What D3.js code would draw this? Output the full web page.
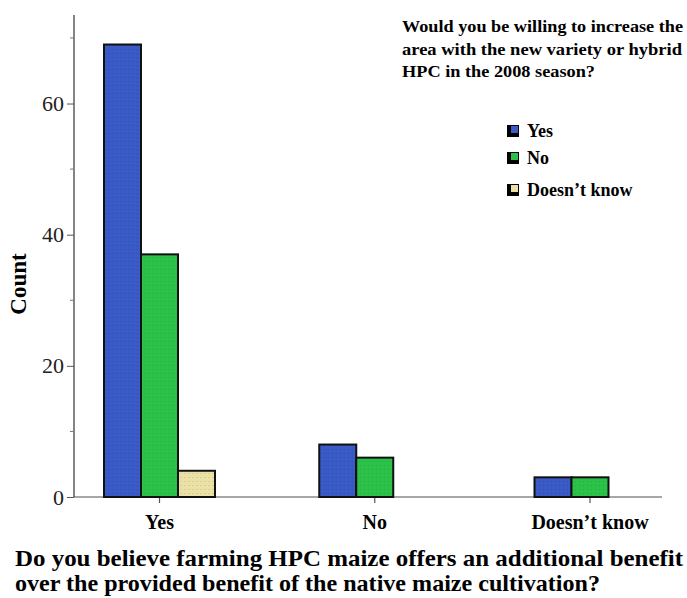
<!DOCTYPE html>
<html>
<head>
<meta charset="utf-8">
<title>HPC maize survey</title>
<script src="https://cdnjs.cloudflare.com/ajax/libs/d3/7.8.5/d3.min.js"></script>
<style>
    body { margin: 0; background: #fff; }
    text { font-family: 'Liberation Serif', 'Times New Roman', serif; }
</style>
</head>
<body>
<script>
    const categories = ['Yes', 'No', 'Doesn\u2019t know'];
    const seriesNames = ['Yes', 'No', 'Doesn\u2019t know'];
    const yesValues = [69, 8, 3];
    const noValues = [37, 6, 3];
    const dontKnowValues = [4, null, null];
    const yTicks = [0, 20, 40, 60];
    const yMinorTicks = [10, 30, 50, 70];
    const colors = ['#3a5bc6', '#2cc24a', '#ebe1a6'];
    const dotColors = ['#2a45a0', '#1e9a38', '#b9ae72'];

    const W = 687, H = 598;
    const svg = d3.select('body').append('svg')
        .attr('width', W)
        .attr('height', H);

    // dotted fill patterns like the original print
    const defs = svg.append('defs');
    colors.forEach((c, i) => {
        const p = defs.append('pattern')
            .attr('id', 'pat' + i)
            .attr('width', 4)
            .attr('height', 4)
            .attr('patternUnits', 'userSpaceOnUse');
        p.append('rect').attr('width', 4).attr('height', 4).attr('fill', c);
        p.append('rect').attr('x', 1).attr('y', 1).attr('width', 1).attr('height', 1)
            .attr('fill', dotColors[i]).attr('opacity', 0.7);
    });

    const y = d3.scaleLinear().domain([0, 73.5]).range([497, 15]);
    const x = d3.scalePoint().domain(categories).range([159.5, 590]);
    const xSub = d3.scaleBand().domain(seriesNames).range([-55.5, 55.5]);

    const table = categories.map((c, i) => ({
        cat: c,
        vals: [yesValues[i], noValues[i], dontKnowValues[i]]
    }));

    // x axis line
    svg.append('line')
        .attr('x1', 74).attr('x2', 662)
        .attr('y1', y(0)).attr('y2', y(0))
        .attr('stroke', '#8a8a8a').attr('stroke-width', 1.5);

    // x ticks
    svg.append('g').selectAll('line')
        .data(categories)
        .enter()
        .append('line')
        .attr('x1', d => x(d)).attr('x2', d => x(d))
        .attr('y1', y(0)).attr('y2', y(0) + 6)
        .attr('stroke', '#555').attr('stroke-width', 1.2);

    svg.append('g').selectAll('text')
        .data(categories)
        .enter()
        .append('text')
        .attr('x', d => x(d))
        .attr('y', 529)
        .attr('text-anchor', 'middle')
        .attr('font-weight', 'bold')
        .attr('font-size', 20)
        .text(d => d);

    // bars
    const groups = svg.append('g').selectAll('g')
        .data(table)
        .enter()
        .append('g')
        .attr('transform', d => 'translate(' + x(d.cat) + ',0)');

    groups.selectAll('rect')
        .data(d => d.vals.map((v, i) => ({ v: v, i: i })).filter(e => e.v !== null))
        .enter()
        .append('rect')
        .attr('x', e => xSub(seriesNames[e.i]))
        .attr('width', xSub.bandwidth())
        .attr('y', e => y(e.v))
        .attr('height', e => y(0) - y(e.v))
        .attr('fill', e => 'url(#pat' + e.i + ')')
        .attr('stroke', '#111')
        .attr('stroke-width', 2);

    // y axis
    const yAxis = svg.append('g')
        .attr('transform', 'translate(74,0)')
        .call(d3.axisLeft(y).tickValues(yTicks).tickSize(7).tickPadding(3));
    yAxis.select('.domain').attr('stroke', '#333').attr('stroke-width', 1.2)
        .attr('d', 'M0,' + y(0) + 'V15');
    yAxis.selectAll('.tick line').attr('stroke', '#555');
    yAxis.selectAll('.tick text')
        .attr('font-family', "'Liberation Serif', serif")
        .attr('font-size', 22)
        .attr('fill', '#222');

    svg.append('g').selectAll('line')
        .data(yMinorTicks)
        .enter()
        .append('line')
        .attr('x1', 70).attr('x2', 74)
        .attr('y1', d => y(d)).attr('y2', d => y(d))
        .attr('stroke', '#777');

    // y title
    svg.append('text')
        .attr('transform', 'translate(26,284) rotate(-90)')
        .attr('text-anchor', 'middle')
        .attr('font-weight', 'bold')
        .attr('font-size', 23)
        .text('Count');

    // x title
    const xTitle = ['Do you believe farming HPC maize offers an additional benefit',
        'over the provided benefit of the native maize cultivation?'];
    const xTitleWidth = [668, 585];
    svg.append('g').selectAll('text')
        .data(xTitle)
        .enter()
        .append('text')
        .attr('x', 15)
        .attr('y', (d, i) => 566 + i * 25)
        .attr('font-weight', 'bold')
        .attr('font-size', 23)
        .attr('textLength', (d, i) => xTitleWidth[i])
        .attr('lengthAdjust', 'spacingAndGlyphs')
        .text(d => d);

    // legend
    const legendTitle = ['Would you be willing to increase the',
        'area with the new variety or hybrid',
        'HPC in the 2008 season?'];
    const legendTitleWidth = [281, 280, 193];
    svg.append('g').selectAll('text')
        .data(legendTitle)
        .enter()
        .append('text')
        .attr('x', 402)
        .attr('y', (d, i) => 32 + i * 22.5)
        .attr('font-weight', 'bold')
        .attr('font-size', 17)
        .attr('textLength', (d, i) => legendTitleWidth[i])
        .attr('lengthAdjust', 'spacingAndGlyphs')
        .text(d => d);

    const legendY = [125, 152, 184];
    const legend = svg.append('g').selectAll('g')
        .data(seriesNames)
        .enter()
        .append('g')
        .attr('transform', (d, i) => 'translate(507,' + legendY[i] + ')');
    legend.append('rect')
        .attr('width', 12).attr('height', 12)
        .attr('fill', '#000');
    legend.append('rect')
        .attr('x', 4).attr('y', 1)
        .attr('width', 7).attr('height', 7)
        .attr('fill', (d, i) => colors[i]);
    legend.append('text')
        .attr('x', 20)
        .attr('y', 12)
        .attr('font-weight', 'bold')
        .attr('font-size', 18)
        .text(d => d);
</script>
</body>
</html>
